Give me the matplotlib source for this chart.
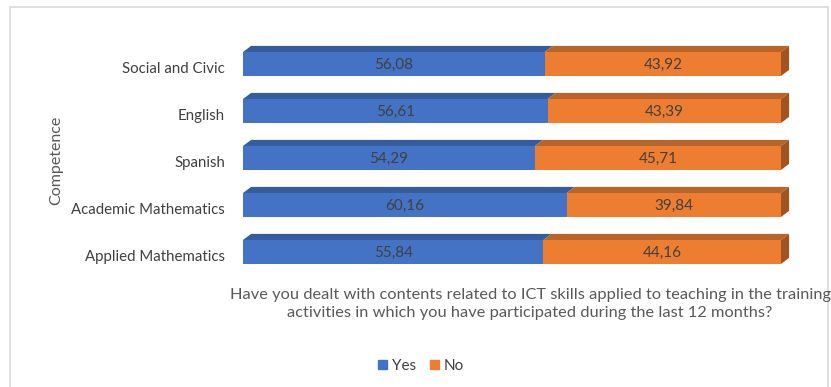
import matplotlib.pyplot as plt
import matplotlib.transforms as mtransforms
from matplotlib.patches import Polygon, Rectangle
import numpy as np

plt.rcParams['font.family'] = ['Lato', 'DejaVu Sans']

# competences, bottom to top
competences = ['Applied Mathematics', 'Academic Mathematics', 'Spanish', 'English', 'Social and Civic']
yes_vals = [55.84, 60.16, 54.29, 56.61, 56.08]
no_vals = [44.16, 39.84, 45.71, 43.39, 43.92]

blue = '#4472C4'
blue_top = '#355D9E'
orange = '#ED7D31'
orange_top = '#B9652A'
orange_side = '#A2531F'
txt = '#404040'

fig = plt.figure(figsize=(8.31, 3.87), dpi=100)
# light chart frame
fig.patches.append(Rectangle((10 / 831, -0.05), 818 / 831, 1 - 7 / 387 + 0.05,
                             transform=fig.transFigure, fill=False,
                             edgecolor='#D9D9D9', linewidth=1.2))

ax = fig.add_axes([243 / 831, 0.276, 538 / 831, 0.6315])
y = np.arange(len(competences))
h = 0.51
dx, dy = 1.5, 0.13  # depth of the 3d faces in data units

ax.barh(y, yes_vals, height=h, color=blue, zorder=3)
ax.barh(y, no_vals, left=yes_vals, height=h, color=orange, zorder=3)

for i in range(len(competences)):
    top = y[i] + h / 2
    yv, nv = yes_vals[i], no_vals[i]
    end = yv + nv
    ax.add_patch(Polygon([(0, top), (yv, top), (yv + dx, top + dy), (dx, top + dy)],
                         closed=True, facecolor=blue_top, edgecolor='none', zorder=2,
                         clip_on=False))
    ax.add_patch(Polygon([(yv, top), (end, top), (end + dx, top + dy), (yv + dx, top + dy)],
                         closed=True, facecolor=orange_top, edgecolor='none', zorder=2,
                         clip_on=False))
    ax.add_patch(Polygon([(end, top - h), (end, top), (end + dx, top + dy), (end + dx, top - h + dy)],
                         closed=True, facecolor=orange_side, edgecolor='none', zorder=2,
                         clip_on=False))
    ax.text(yv / 2, y[i] - 0.02, f'{yv:.2f}'.replace('.', ','), ha='center', va='center',
            fontsize=11, color=txt, zorder=4)
    ax.text(yv + nv / 2, y[i] - 0.02, f'{nv:.2f}'.replace('.', ','), ha='center', va='center',
            fontsize=11, color=txt, zorder=4)

ax.set_xlim(0, 100)
ax.set_ylim(-0.6, 4.6)
ax.set_yticks(y)
ax.set_yticklabels(competences, fontsize=10.8, color=txt)
ax.tick_params(axis='y', length=0, pad=13)
shift = mtransforms.ScaledTranslation(0, -4 / 100, fig.dpi_scale_trans)
for lab in ax.get_yticklabels():
    lab.set_transform(lab.get_transform() + shift)
ax.set_xticks([])
for s in ax.spines.values():
    s.set_visible(False)
ax.patch.set_alpha(0)

fig.text(56 / 831, 1 - 160 / 387, 'Competence', rotation=90, ha='center', va='center',
         fontsize=11.5, color='#595959')
fig.text(530 / 831, 1 - 304 / 387,
         'Have you dealt with contents related to ICT skills applied to teaching in the training\n'
         'activities in which you have participated during the last 12 months?',
         ha='center', va='center', fontsize=11.8, color='#595959', linespacing=1.35)

handles = [Rectangle((0, 0), 1, 1, color=blue), Rectangle((0, 0), 1, 1, color=orange)]
fig.legend(handles, ['Yes', 'No'], loc='center', bbox_to_anchor=(421 / 831, 1 - 366 / 387),
           ncol=2, frameon=False, fontsize=11, handlelength=0.6, handleheight=0.6,
           handletextpad=0.3, columnspacing=0.9, labelcolor=txt)

fig.savefig('out.png', dpi=100)
